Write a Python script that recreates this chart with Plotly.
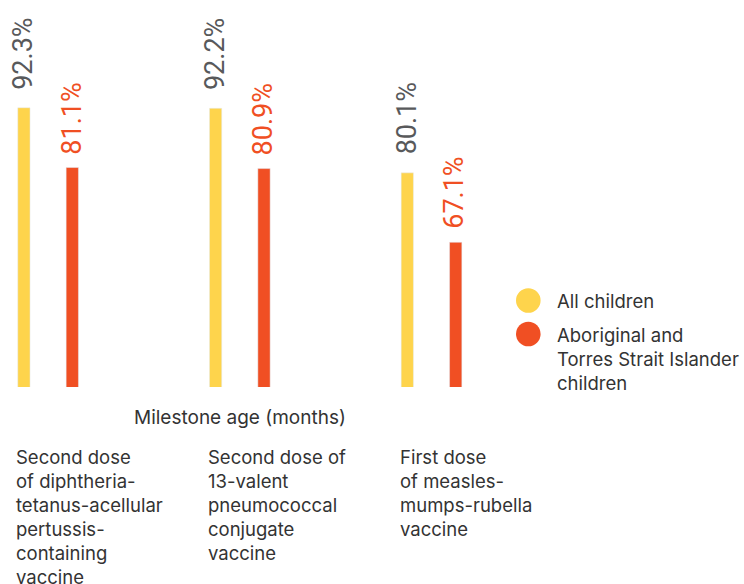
import plotly.graph_objects as go

categories = [
    "Second dose<br>of diphtheria-<br>tetanus-acellular<br>pertussis-<br>containing<br>vaccine",
    "Second dose of<br>13-valent<br>pneumococcal<br>conjugate<br>vaccine",
    "First dose<br>of measles-<br>mumps-rubella<br>vaccine",
]
series_names = ["All children", "Aboriginal and<br>Torres Strait Islander<br>children"]
all_children = [92.3, 92.2, 80.1]
indigenous = [81.1, 80.9, 67.1]
axis_title = "Milestone age (months)"

YELLOW = "#FED44C"
RED = "#F04F23"
GREY = "#58595B"
TEXT = "#333333"
LABEL_FONT = "Inter, Noto Sans"

fig = go.Figure()
fig.add_bar(x=categories, y=all_children, name=series_names[0], marker_color=YELLOW, showlegend=False)
fig.add_bar(x=categories, y=indigenous, name=series_names[1], marker_color=RED, showlegend=False)

annotations = []
for vals, col, xs, ys in [(all_children, GREY, -25, 16), (indigenous, RED, 23, 11)]:
    for c, v in zip(categories, vals):
        annotations.append(dict(x=c, y=v, xref="x", yref="y", text=f"{v:.1f}%",
                                textangle=-90, showarrow=False, xanchor="center", yanchor="bottom",
                                xshift=xs, yshift=ys,
                                font=dict(family="Roboto", size=27, color=col)))
for c in categories:
    annotations.append(dict(x=c, y=-0.146, xref="x", yref="paper", text=c, showarrow=False,
                            xanchor="left", yanchor="top", align="left", xshift=-34,
                            font=dict(family=LABEL_FONT, size=18.5, color=TEXT)))
annotations.append(dict(x=categories[1], y=-0.044, xref="x", yref="paper", text=axis_title,
                        showarrow=False, xanchor="center", yanchor="top",
                        font=dict(family=LABEL_FONT, size=19, color=TEXT)))

# legend drawn manually
shapes = []
leg_y = [300.5, 334]
H = 584
plot_h = 387
for name, col, py in zip(series_names, [YELLOW, RED], leg_y):
    cy = (plot_h - py) / plot_h
    r = 12.3 / plot_h
    shapes.append(dict(type="circle", xref="paper", yref="paper", x0=(528.3 - 12.3) / 744, x1=(528.3 + 12.3) / 744,
                       y0=cy - r, y1=cy + r, fillcolor=col, line=dict(width=0)))
    annotations.append(dict(x=555 / 744, y=(plot_h - py + 12.5) / plot_h, xref="paper", yref="paper", text=name,
                            showarrow=False, xanchor="left", yanchor="top", align="left",
                            font=dict(family=LABEL_FONT, size=18.5, color=TEXT)))

span = 191.7
x0 = -48.1 / span
fig.update_layout(
    width=744, height=584,
    margin=dict(l=0, r=0, t=0, b=H - plot_h),
    paper_bgcolor="white", plot_bgcolor="white",
    barmode="group", bargap=0.495, bargroupgap=0.746,
    xaxis=dict(type="category", range=[x0, x0 + 744 / span], showticklabels=False,
               showgrid=False, zeroline=False, showline=False, ticks=""),
    yaxis=dict(range=[40, 40 + plot_h / 5.34], visible=False),
    annotations=annotations, shapes=shapes,
)
fig.write_html("out.html", config={"displayModeBar": False},
               post_script="document.body.style.margin='0';")
